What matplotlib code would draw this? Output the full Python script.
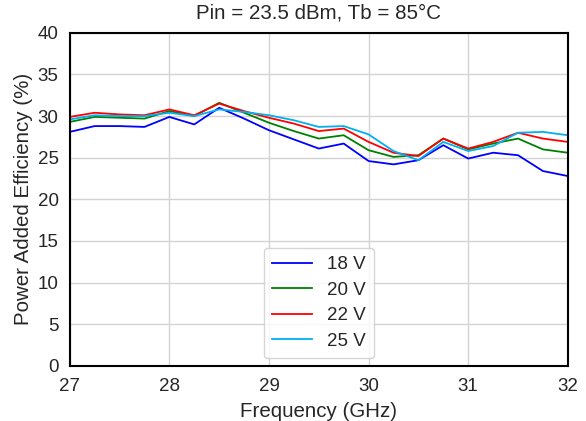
import matplotlib
matplotlib.use('Agg')
import matplotlib.pyplot as plt

# PAE vs frequency at Pin = 23.5 dBm, Tb = 85 C
freq_ghz = [27.0, 27.25, 27.5, 27.75, 28.0, 28.25, 28.5, 28.75, 29.0, 29.25, 29.5,
            29.75, 30.0, 30.25, 30.5, 30.75, 31.0, 31.25, 31.5, 31.75, 32.0]
pae_18v = [28.1, 28.8, 28.8, 28.7, 29.9, 29.0, 31.0, 29.7, 28.3, 27.2, 26.1,
           26.7, 24.6, 24.2, 24.7, 26.5, 24.9, 25.6, 25.3, 23.4, 22.8]
pae_20v = [29.3, 29.9, 29.8, 29.7, 30.6, 30.0, 31.6, 30.4, 29.2, 28.2, 27.3,
           27.7, 25.9, 25.1, 25.3, 27.3, 26.0, 26.7, 27.3, 26.0, 25.6]
pae_22v = [29.9, 30.4, 30.2, 30.1, 30.8, 30.1, 31.5, 30.6, 29.8, 29.1, 28.2,
           28.5, 26.9, 25.6, 25.2, 27.3, 26.1, 26.9, 28.0, 27.3, 26.9]
pae_25v = [29.6, 30.1, 30.0, 30.0, 30.4, 30.0, 30.8, 30.5, 30.1, 29.5, 28.7,
           28.8, 27.8, 25.8, 24.7, 26.9, 25.8, 26.4, 28.0, 28.1, 27.7]
labels = ['18 V', '20 V', '22 V', '25 V']
colors = ['#0000ff', '#008000', '#ff0000', '#00b0f0']

plt.rcParams['font.family'] = ['Liberation Sans', 'DejaVu Sans']

fig = plt.figure(figsize=(5.86, 4.21), dpi=100)
ax = fig.add_axes([0.119, 0.131, 0.850, 0.791])

for series, label, color in zip([pae_18v, pae_20v, pae_22v, pae_25v], labels, colors):
    ax.plot(freq_ghz, series, color=color, lw=1.3, label=label)

ax.set_xlim(27, 32)
ax.set_ylim(0, 40)
ax.set_xticks([27, 28, 29, 30, 31, 32])
ax.set_yticks(range(0, 45, 5))
ax.grid(True, color='#d3d3d3', lw=1.0)
ax.set_axisbelow(True)
for spine in ax.spines.values():
    spine.set_color('black')
    spine.set_linewidth(1.5)
ax.tick_params(length=0, labelsize=13.5, colors='#262626')
ax.tick_params(axis='x', pad=9)
ax.tick_params(axis='y', pad=8)

ax.set_xlabel('Frequency (GHz)', fontsize=14.8, color='#262626', labelpad=5)
ax.set_ylabel('Power Added Efficiency (%)', fontsize=14.8, color='#262626', labelpad=3)
ax.set_title('Pin = 23.5 dBm, Tb = 85°C', fontsize=14.8, color='#262626', pad=10)

leg = ax.legend(loc='lower center', fontsize=13.5, handlelength=2.1, handletextpad=0.8,
                borderpad=0.45, labelspacing=0.45, frameon=True, fancybox=True,
                borderaxespad=0.4, bbox_to_anchor=(0.5, 0.0))
leg.get_frame().set_edgecolor('#cccccc')
for t in leg.get_texts():
    t.set_color('#262626')

fig.savefig('out.png', dpi=100)
